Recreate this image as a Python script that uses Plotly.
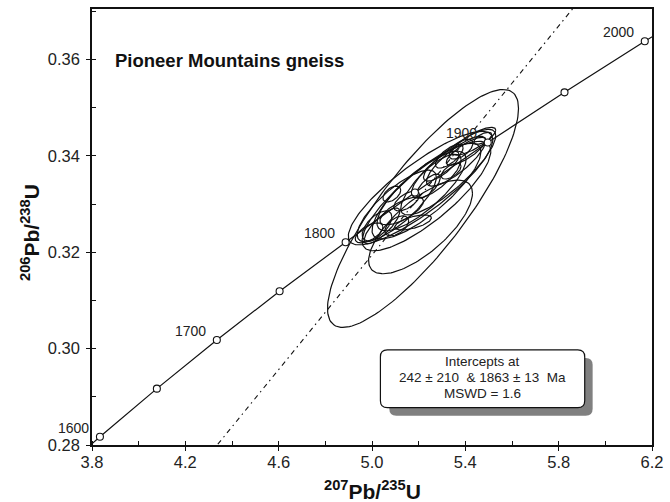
import numpy as np
import plotly.graph_objects as go

# ---- data -------------------------------------------------------------
# concordia reference points (age in Ma, 207Pb/235U, 206Pb/238U)
conc_age = [1550, 1600, 1650, 1700, 1750, 1800, 1850, 1900, 1950, 2000, 2050]
conc_x = [3.602, 3.834, 4.078, 4.335, 4.604, 4.887, 5.184, 5.496, 5.825, 6.169, 6.530]
conc_y = [0.2718, 0.2817, 0.2917, 0.3018, 0.3119, 0.3221, 0.3324, 0.3428, 0.3532, 0.3638, 0.3744]
marker_ages = [1600, 1650, 1700, 1750, 1800, 1850, 1900, 1950, 2000]
label_ages = [1600, 1700, 1800, 1900, 2000]

# discordia (regression) line end points
disc_x = [4.30, 5.90]
disc_y = [0.27783, 0.37292]

# error ellipses: centre, half-extent in x and y, correlation
ell_x = [5.2186, 5.2080, 5.1762, 5.2080, 5.2334, 5.3267, 5.1062, 5.2122, 5.0850, 5.1486,
         5.3310, 5.3394, 5.4751, 5.4031, 5.2758, 5.0426, 5.1062, 5.4370, 5.2419, 5.3607,
         5.1274, 5.2970, 5.0214, 4.9874, 5.3818, 5.2334]
ell_y = [0.32910, 0.32527, 0.32620, 0.33333, 0.33271, 0.33664, 0.32961, 0.33271, 0.33209, 0.33065,
         0.33995, 0.33685, 0.34367, 0.34098, 0.33581, 0.32548, 0.32548, 0.34305, 0.33375, 0.33891,
         0.32858, 0.33788, 0.32548, 0.32403, 0.34140, 0.33168]
ell_sx = [0.4093, 0.2226, 0.0785, 0.3096, 0.2333, 0.2036, 0.1696, 0.1908, 0.0382, 0.0551,
          0.0594, 0.0424, 0.0382, 0.0848, 0.1060, 0.0763, 0.0509, 0.0933, 0.0509, 0.1272,
          0.0933, 0.0763, 0.0636, 0.0594, 0.0509, 0.2757]
ell_sy = [0.02470, 0.00972, 0.00155, 0.01178, 0.00992, 0.00889, 0.00744, 0.00827, 0.00165, 0.00207,
          0.00248, 0.00165, 0.00124, 0.00289, 0.00455, 0.00372, 0.00207, 0.00289, 0.00248, 0.00517,
          0.00289, 0.00310, 0.00310, 0.00207, 0.00207, 0.01137]
ell_rho = [0.84, 0.72, 0.60, 0.85, 0.82, 0.85, 0.80, 0.80, 0.50, 0.60,
           0.70, 0.60, 0.60, 0.80, 0.75, 0.80, 0.50, 0.80, 0.70, 0.82,
           0.70, 0.75, 0.60, 0.60, 0.60, 0.82]

title_text = "Pioneer Mountains gneiss"
box_lines = ["Intercepts at", "242 ± 210&nbsp; &amp; 1863 ± 13&nbsp; Ma", "MSWD = 1.6"]

x_ticks = [3.8, 4.2, 4.6, 5.0, 5.4, 5.8, 6.2]
y_ticks = [0.28, 0.30, 0.32, 0.34, 0.36]
x_range = [3.8, 6.2]
y_range = [0.28, 0.3705]

# ---- layout geometry ---------------------------------------------------
W, H = 670, 502
ML, MR, MT, MB = 92, 12, 7, 57
PW, PH = W - ML - MR, H - MT - MB
kx = (x_range[1] - x_range[0]) / PW      # data units per pixel
ky = (y_range[1] - y_range[0]) / PH

FONT = "Liberation Sans, Arial, Helvetica, sans-serif"

fig = go.Figure()

# error ellipses
t = np.linspace(0, 2 * np.pi, 160)
ex, ey = [], []
for cx, cy, sx, sy, r in zip(ell_x, ell_y, ell_sx, ell_sy, ell_rho):
    ex += list(cx + sx * np.cos(t)) + [None]
    ey += list(cy + sy * (r * np.cos(t) + np.sqrt(1 - r * r) * np.sin(t))) + [None]
fig.add_trace(go.Scatter(x=ex, y=ey, mode="lines",
                         line=dict(color="#111111", width=1.2),
                         hoverinfo="skip", showlegend=False))

# discordia
fig.add_trace(go.Scatter(x=disc_x, y=disc_y, mode="lines",
                         line=dict(color="#111111", width=1.1, dash="5px,4px,1.5px,4px"),
                         hoverinfo="skip", showlegend=False))

# concordia curve
fig.add_trace(go.Scatter(x=conc_x, y=conc_y, mode="lines",
                         line=dict(color="#111111", width=1.2),
                         hoverinfo="skip", showlegend=False))
mx = [conc_x[conc_age.index(a)] for a in marker_ages]
my = [conc_y[conc_age.index(a)] for a in marker_ages]
fig.add_trace(go.Scatter(x=mx, y=my, mode="markers",
                         marker=dict(size=7, color="white",
                                     line=dict(color="#111111", width=1.1)),
                         cliponaxis=False, hoverinfo="skip", showlegend=False))

annotations = []
for a in label_ages:
    i = conc_age.index(a)
    annotations.append(dict(x=conc_x[i], y=conc_y[i], xref="x", yref="y",
                            text=str(a), showarrow=False, xanchor="right", yanchor="middle",
                            xshift=-9, yshift=9, font=dict(family=FONT, size=14, color="#222")))

# title
annotations.append(dict(x=0, y=1, xref="paper", yref="paper", xanchor="left", yanchor="middle",
                        xshift=21, yshift=-51, showarrow=False, text="<b>" + title_text + "</b>",
                        font=dict(family=FONT, size=18.5, color="#111")))

# axis titles
annotations.append(dict(x=0.5, y=0, xref="paper", yref="paper", xanchor="center", yanchor="middle",
                        yshift=-45, showarrow=False,
                        text="<b><sup>207</sup>Pb/<sup>235</sup>U</b>",
                        font=dict(family=FONT, size=21, color="#111")))
annotations.append(dict(x=0, y=0.5, xref="paper", yref="paper", xanchor="center", yanchor="middle",
                        xshift=-62, yshift=-6, showarrow=False, textangle=-90,
                        text="<b><sup>206</sup>Pb/<sup>238</sup>U</b>",
                        font=dict(family=FONT, size=21, color="#111")))

# results box (rounded, with drop shadow)
def px2x(p):
    return x_range[0] + (p - ML) * kx

def py2y(p):
    return y_range[0] + (MT + PH - p) * ky

def rrect(x0p, y0p, x1p, y1p, rp):
    x0, x1 = px2x(x0p), px2x(x1p)
    yt, yb = py2y(y0p), py2y(y1p)
    rx, ry = rp * kx, rp * ky
    return (f"M {x0+rx},{yt} L {x1-rx},{yt} Q {x1},{yt} {x1},{yt-ry} "
            f"L {x1},{yb+ry} Q {x1},{yb} {x1-rx},{yb} L {x0+rx},{yb} "
            f"Q {x0},{yb} {x0},{yb+ry} L {x0},{yt-ry} Q {x0},{yt} {x0+rx},{yt} Z")

bx0, by0, bx1, by1 = 383.5, 349.5, 590.0, 407.5
shapes = [
    dict(type="path", xref="x", yref="y", path=rrect(bx0 + 9, by0 + 8, bx1 + 8, by1 + 8, 7),
         fillcolor="#808080", line=dict(width=0), layer="above"),
    dict(type="path", xref="x", yref="y", path=rrect(bx0, by0, bx1, by1, 7),
         fillcolor="white", line=dict(color="#111111", width=1.2), layer="above"),
]
line_py = [361.5, 377.5, 393]
cxp = (bx0 + bx1) / 2
for txt, lp in zip(box_lines, line_py):
    annotations.append(dict(x=px2x(cxp), y=py2y(lp), xref="x", yref="y", showarrow=False,
                            xanchor="center", yanchor="middle", text=txt, borderpad=0,
                            font=dict(family=FONT, size=13.5, color="#222")))

axis_common = dict(showgrid=False, zeroline=False, showline=True, mirror=True,
                   linecolor="#111111", linewidth=1.6, ticks="outside", ticklen=4,
                   tickwidth=1.2, tickcolor="#111111",
                   tickfont=dict(family=FONT, size=16.5, color="#222"))

fig.update_layout(
    width=W, height=H,
    margin=dict(l=ML, r=MR, t=MT, b=MB, pad=0),
    paper_bgcolor="white", plot_bgcolor="white",
    showlegend=False,
    xaxis=dict(range=x_range, tickvals=x_ticks, ticktext=[f"{v:.1f}" for v in x_ticks],
               ticklabelstandoff=-3,
               minor=dict(dtick=0.2, tick0=3.8, ticks="inside", ticklen=4, tickcolor="#111111",
                          tickwidth=1.1),
               **axis_common),
    yaxis=dict(range=y_range, tickvals=y_ticks, ticktext=[f"{v:.2f}" for v in y_ticks],
               ticklabelstandoff=3,
               minor=dict(dtick=0.01, tick0=0.28, ticks="inside", ticklen=4, tickcolor="#111111",
                          tickwidth=1.1),
               **axis_common),
    annotations=annotations,
    shapes=shapes,
)

fig.write_html("out.html")
